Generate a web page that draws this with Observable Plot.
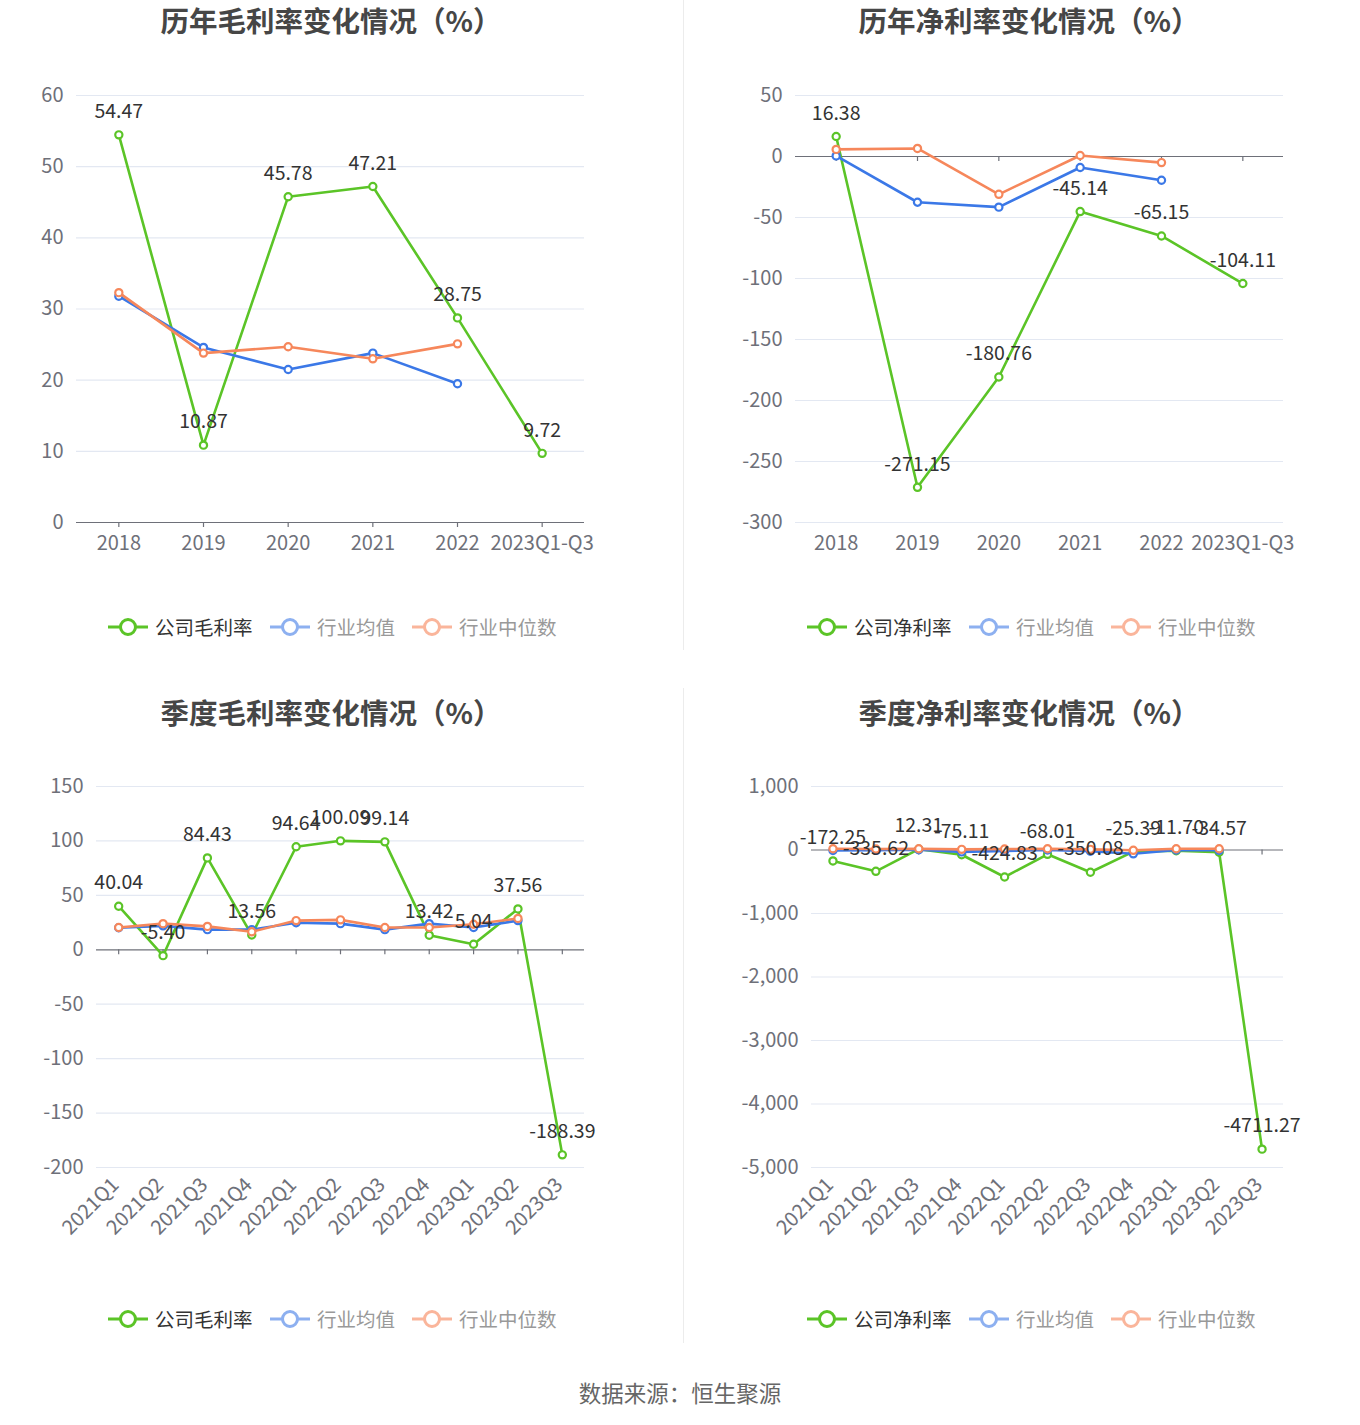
<!DOCTYPE html>
<html><head><meta charset="utf-8">
<script src="https://cdn.jsdelivr.net/npm/d3@7"></script>
<script src="https://cdn.jsdelivr.net/npm/@observablehq/plot@0.6"></script>
<style>
body{margin:0;background:#fff;font-family:"Noto Sans CJK SC","Noto Sans",sans-serif;}
#root{position:relative;width:1360px;height:1425px;overflow:hidden;background:#fff;}
.title{position:absolute;font-size:28.5px;font-weight:bold;color:#464646;white-space:nowrap;transform:translate(-50%,-50%);line-height:1;}
.chart{position:absolute;}
.litem{position:absolute;display:flex;align-items:center;white-space:nowrap;font-size:19.5px;line-height:1;transform:translateY(-50%);}
.litem svg{margin-right:7px;}
.divider{position:absolute;left:683px;width:1px;background:#ececec;}
.source{position:absolute;left:0;width:1360px;text-align:center;top:1379px;font-size:22.5px;color:#666;line-height:1.2;}
</style></head>
<body><div id="root"></div>
<script>
// ---- data ----
const yearCats = ["2018", "2019", "2020", "2021", "2022", "2023Q1-Q3"];
const grossCompany = [54.47, 10.87, 45.78, 47.21, 28.75, 9.72];
const grossMean = [31.8, 24.6, 21.5, 23.8, 19.5];
const grossMedian = [32.3, 23.8, 24.7, 23.0, 25.1];
const netCompany = [16.38, -271.15, -180.76, -45.14, -65.15, -104.11];
const netMean = [0.5, -37.5, -41.5, -9.0, -19.5];
const netMedian = [5.8, 6.6, -31.0, 0.8, -5.0];

const quarterCats = ["2021Q1", "2021Q2", "2021Q3", "2021Q4", "2022Q1", "2022Q2", "2022Q3", "2022Q4", "2023Q1", "2023Q2", "2023Q3"];
const qGrossCompany = [40.04, -5.40, 84.43, 13.56, 94.64, 100.09, 99.14, 13.42, 5.04, 37.56, -188.39];
const qGrossMean = [20.2, 22.0, 18.5, 18.5, 24.8, 24.0, 18.5, 24.0, 20.5, 26.8];
const qGrossMedian = [20.5, 24.0, 21.5, 16.5, 26.8, 27.5, 20.5, 20.5, 23.5, 28.8];
const qNetCompany = [-172.25, -335.62, 12.31, -75.11, -424.83, -68.01, -350.08, -25.39, -11.70, -34.57, -4711.27];
const qNetMean = [-8, -5, 5, -30, -15, 0, -20, -60, 0, -5];
const qNetMedian = [20, 15, 20, 10, 15, 20, 10, -5, 20, 20];

const grossTicks = [0, 10, 20, 30, 40, 50, 60];
const netTicks = [50, 0, -50, -100, -150, -200, -250, -300];
const qGrossTicks = [150, 100, 50, 0, -50, -100, -150, -200];
const qNetTicks = [1000, 0, -1000, -2000, -3000, -4000, -5000];

const grossLegend = ["公司毛利率", "行业均值", "行业中位数"];
const netLegend = ["公司净利率", "行业均值", "行业中位数"];
const titles = ["历年毛利率变化情况（%）", "历年净利率变化情况（%）", "季度毛利率变化情况（%）", "季度净利率变化情况（%）"];
const sourceText = "数据来源：恒生聚源";

const colors = ["#5bc427", "#3b78e7", "#f6875b"];
const legendSymColors = ["#5bc427", "#8db0f0", "#fab59b"];
const legendTextColors = ["#333333", "#999999", "#999999"];

const root = document.getElementById("root");
const fmt = d => (d < 0 ? "-" : "") + Math.abs(d).toLocaleString("en-US");

function rowsOf(cats, vals, s) {
  return vals.map((v, i) => ({cat: cats[i], v, s}));
}

function panel(cfg) {
  const {left, top, height, ml, mr, mt, mb, cats, series, domain, ticks, rotate, titleX, titleY, title, legendY, legendXs, legendNames} = cfg;
  const t = document.createElement("div");
  t.className = "title";
  t.style.left = titleX + "px"; t.style.top = titleY + "px";
  t.textContent = title;
  root.appendChild(t);

  const marks = [
    Plot.gridY(ticks.filter(d => d !== 0), {stroke: "#e3e8f2", strokeOpacity: 1, strokeWidth: 1.2}),
    Plot.ruleY([0], {stroke: "#6e7079", strokeWidth: 1.2}),
    Plot.ruleX(cats, {x: d => d, y1: 0, y2: 0, insetBottom: -5, stroke: "#6e7079", strokeWidth: 1.2}),
    Plot.axisY({ticks, tickSize: 0, tickPadding: 13, fontSize: 20, fill: "#6e7079", tickFormat: fmt, label: null}),
    rotate
      ? Plot.axisX({tickSize: 0, tickPadding: 14, fontSize: 20, fill: "#6e7079", tickRotate: -45, label: null, dx: -3})
      : Plot.axisX({tickSize: 0, tickPadding: 13, fontSize: 20, fill: "#6e7079", label: null})
  ];
  series.forEach((vals, k) => {
    const rows = rowsOf(cats, vals, k);
    marks.push(Plot.line(rows, {x: "cat", y: "v", stroke: colors[k], strokeWidth: 2.6}));
    marks.push(Plot.dot(rows, {x: "cat", y: "v", r: 3.6, stroke: colors[k], fill: "white", strokeWidth: 2.2}));
  });
  const comp = rowsOf(cats, series[0], 0);
  marks.push(Plot.text(comp, {x: "cat", y: "v", text: d => d.v.toFixed(2), dy: -23, fontSize: 19.5, fill: "#333", fontFamily: "Noto Sans CJK SC"}));

  const svg = Plot.plot({
    width: 680, height,
    marginLeft: ml, marginRight: mr, marginTop: mt, marginBottom: mb,
    style: {fontFamily: "Noto Sans CJK SC, Noto Sans, sans-serif", background: "transparent", overflow: "visible"},
    x: {type: "point", domain: cats, padding: 0.5, round: false, axis: null},
    y: {domain, axis: null},
    marks
  });
  const wrap = document.createElement("div");
  wrap.className = "chart";
  wrap.style.left = left + "px"; wrap.style.top = top + "px";
  wrap.appendChild(svg);
  root.appendChild(wrap);

  legendNames.forEach((name, k) => {
    const it = document.createElement("div");
    it.className = "litem";
    it.style.left = (left + legendXs[k]) + "px";
    it.style.top = legendY + "px";
    it.style.color = legendTextColors[k];
    it.innerHTML = `<svg width="40" height="20"><line x1="0" y1="10" x2="40" y2="10" stroke="${legendSymColors[k]}" stroke-width="3"/><circle cx="20" cy="10" r="7.5" fill="white" stroke="${legendSymColors[k]}" stroke-width="3"/></svg>${name}`;
    root.appendChild(it);
  });
}

panel({left: 0, top: 40, height: 540, ml: 76, mr: 96, mt: 55, mb: 58,
  cats: yearCats, series: [grossCompany, grossMean, grossMedian], domain: [0, 60], ticks: grossTicks,
  rotate: false, titleX: 331, titleY: 20, title: titles[0], legendY: 627, legendXs: [108, 270, 412], legendNames: grossLegend});
panel({left: 680, top: 40, height: 540, ml: 115, mr: 77, mt: 55, mb: 58,
  cats: yearCats, series: [netCompany, netMean, netMedian], domain: [-300, 50], ticks: netTicks,
  rotate: false, titleX: 1029, titleY: 20, title: titles[1], legendY: 627, legendXs: [127, 289, 431], legendNames: netLegend});
panel({left: 0, top: 730, height: 540, ml: 96, mr: 96, mt: 56, mb: 103,
  cats: quarterCats, series: [qGrossCompany, qGrossMean, qGrossMedian], domain: [-200, 150], ticks: qGrossTicks,
  rotate: true, titleX: 331, titleY: 712, title: titles[2], legendY: 1319, legendXs: [108, 270, 412], legendNames: grossLegend});
panel({left: 680, top: 730, height: 540, ml: 131, mr: 77, mt: 56, mb: 103,
  cats: quarterCats, series: [qNetCompany, qNetMean, qNetMedian], domain: [-5000, 1000], ticks: qNetTicks,
  rotate: true, titleX: 1029, titleY: 712, title: titles[3], legendY: 1319, legendXs: [127, 289, 431], legendNames: netLegend});

const d1 = document.createElement("div"); d1.className = "divider"; d1.style.top = "0px"; d1.style.height = "650px"; root.appendChild(d1);
const d2 = document.createElement("div"); d2.className = "divider"; d2.style.top = "688px"; d2.style.height = "655px"; root.appendChild(d2);
const src = document.createElement("div"); src.className = "source"; src.textContent = sourceText; root.appendChild(src);
</script>
</body></html>
